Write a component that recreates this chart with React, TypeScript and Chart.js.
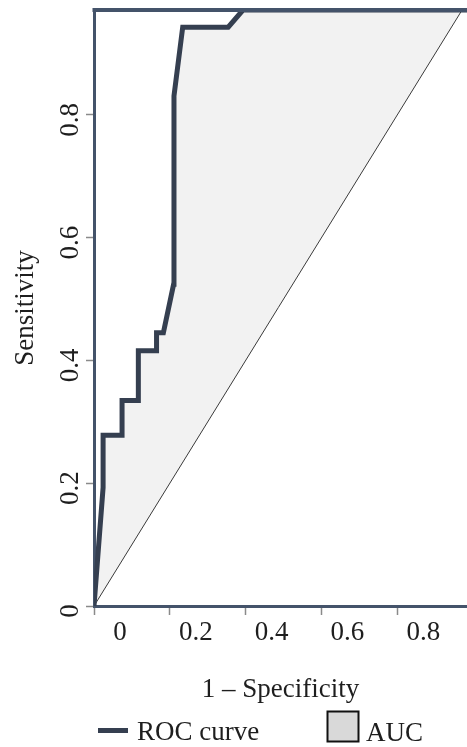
import React, { useEffect, useRef } from "react";
import { Chart, registerables } from "chart.js";

Chart.register(...registerables);

// ---- data ----
const rocFpr = [0, 0.024, 0.024, 0.074, 0.074, 0.117, 0.117, 0.165, 0.165, 0.183, 0.21, 0.211, 0.234, 0.354, 0.393, 0.984];
const rocTpr = [0, 0.193, 0.278, 0.278, 0.335, 0.335, 0.416, 0.416, 0.445, 0.445, 0.524, 0.831, 0.943, 0.943, 0.971, 0.971];
const diagX = [0, 1];
const diagY = [0, 1];
const xTicks = [0, 0.2, 0.4, 0.6, 0.8];
const yTicks = [0, 0.2, 0.4, 0.6, 0.8];
const xTickLabels = ["0", "0.2", "0.4", "0.6", "0.8"];
const yTickLabels = ["0", "0.2", "0.4", "0.6", "0.8"];
const xMax = 0.984;
const yMax = 0.971;
const xTitle = "1 – Specificity";
const yTitle = "Sensitivity";
const legendLabels = ["ROC curve", "AUC"];

// ---- styles ----
const FONT = "'Liberation Serif', 'Times New Roman', serif";
const CURVE = "#353f50";
const BORDER = "#44536a";
const FILL = "#f2f2f2";
const TEXT = "#1e1e1e";
const TICK = "#8a8a8a";

const decor = {
  id: "decor",
  afterDraw(chart: any) {
    const { ctx, chartArea, scales } = chart;
    const x = scales.x;
    const y = scales.y;
    ctx.save();
    // top frame line
    ctx.strokeStyle = BORDER;
    ctx.lineWidth = 4;
    ctx.beginPath();
    ctx.moveTo(chartArea.left - 1.5, chartArea.top);
    ctx.lineTo(chartArea.right, chartArea.top);
    ctx.stroke();

    ctx.fillStyle = TEXT;
    ctx.font = `27px ${FONT}`;
    // x tick labels (offset to the right of the tick marks)
    ctx.textAlign = "center";
    ctx.textBaseline = "alphabetic";
    xTicks.forEach((v, i) => {
      ctx.fillText(xTickLabels[i], x.getPixelForValue(v) + 26, 640);
    });
    // y tick labels, rotated
    yTicks.forEach((v, i) => {
      ctx.save();
      ctx.translate(78, y.getPixelForValue(v) + 5);
      ctx.rotate(-Math.PI / 2);
      ctx.textAlign = "center";
      ctx.textBaseline = "alphabetic";
      ctx.fillText(yTickLabels[i], 0, 0);
      ctx.restore();
    });
    // x title
    ctx.textAlign = "center";
    ctx.fillText(xTitle, (chartArea.left + chartArea.right) / 2, 697);
    // y title
    ctx.save();
    ctx.translate(33, (chartArea.top + chartArea.bottom) / 2);
    ctx.rotate(-Math.PI / 2);
    ctx.textAlign = "center";
    ctx.fillText(yTitle, 0, 0);
    ctx.restore();

    // legend
    ctx.strokeStyle = CURVE;
    ctx.lineWidth = 5;
    ctx.beginPath();
    ctx.moveTo(98, 730.5);
    ctx.lineTo(128, 730.5);
    ctx.stroke();
    ctx.textAlign = "left";
    ctx.fillText(legendLabels[0], 137, 740);
    ctx.fillStyle = "#d9d9d9";
    ctx.fillRect(327.5, 711.5, 31, 30);
    ctx.strokeStyle = "#111";
    ctx.lineWidth = 2;
    ctx.strokeRect(327.5, 711.5, 31, 30);
    ctx.fillStyle = TEXT;
    ctx.fillText(legendLabels[1], 366, 741);
    ctx.restore();
  },
};

export default function App() {
  const ref = useRef<HTMLCanvasElement | null>(null);
  useEffect(() => {
    if (!ref.current) return;
    const chart = new Chart(ref.current, {
      type: "line",
      data: {
        datasets: [
          {
            label: legendLabels[0],
            data: rocFpr.map((v, i) => ({ x: v, y: rocTpr[i] })),
            borderColor: CURVE,
            borderWidth: 5,
            pointRadius: 0,
            tension: 0,
            borderJoinStyle: "miter",
            fill: { target: 1, above: FILL, below: FILL },
          },
          {
            label: "diagonal",
            data: diagX.map((v, i) => ({ x: v, y: diagY[i] })),
            borderColor: "#3a3a3a",
            borderWidth: 1,
            pointRadius: 0,
            tension: 0,
            fill: false,
          },
        ],
      } as any,
      options: {
        animation: false,
        responsive: false,
        maintainAspectRatio: false,
        layout: { padding: { top: 10, left: 0, right: 0, bottom: 0 } },
        plugins: {
          legend: { display: false },
          tooltip: { enabled: false },
          filler: { drawTime: "beforeDatasetsDraw" },
        } as any,
        scales: {
          x: {
            type: "linear",
            min: 0,
            max: xMax,
            afterBuildTicks: (s: any) => {
              s.ticks = xTicks.map((v) => ({ value: v }));
            },
            afterFit: (s: any) => {
              s.height = 141;
            },
            ticks: { display: false },
            grid: { drawOnChartArea: false, tickLength: 9, tickColor: TICK, tickWidth: 1.5 } as any,
            border: { color: BORDER, width: 3 },
          },
          y: {
            type: "linear",
            min: 0,
            max: yMax,
            afterBuildTicks: (s: any) => {
              s.ticks = yTicks.map((v) => ({ value: v }));
            },
            afterFit: (s: any) => {
              s.width = 94;
            },
            ticks: { display: false },
            grid: { drawOnChartArea: false, tickLength: 8, tickColor: TICK, tickWidth: 1.5 } as any,
            border: { color: BORDER, width: 3 },
          },
        },
      },
      plugins: [decor],
    });
    return () => chart.destroy();
  }, []);

  return (
    <div style={{ position: "fixed", left: 0, top: 0, width: 467, height: 747, background: "#fff" }}>
      <canvas ref={ref} width={467} height={747} style={{ display: "block", width: 467, height: 747 }} />
    </div>
  );
}
